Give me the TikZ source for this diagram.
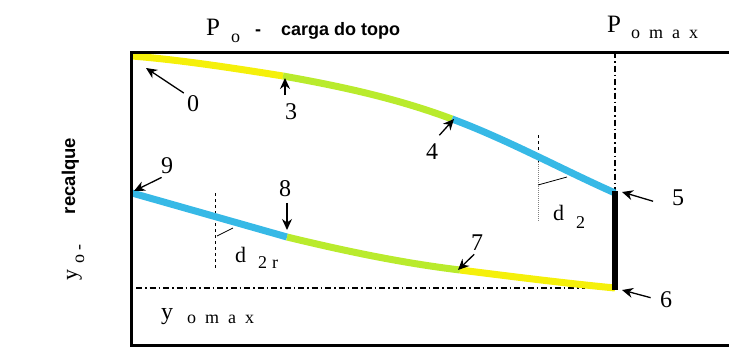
\documentclass[tikz,border=0pt]{standalone}
\usepackage{fontspec}
\setmainfont{Liberation Serif}
\setsansfont{Liberation Sans}
\usetikzlibrary{arrows.meta}

\definecolor{amarelo}{RGB}{245,240,10}
\definecolor{verde}{RGB}{185,235,45}
\definecolor{azul}{RGB}{55,185,230}

\newcommand{\indice}[2][7pt]{\raisebox{-#1}{\fontsize{18}{18}\selectfont #2}}

\begin{document}
\begin{tikzpicture}[x=1pt, y=-1pt,
    curva/.style={line width=7pt},
    seta/.style={-{Stealth[length=11pt,width=10pt]}, line width=1.3pt},
    num/.style={font=\fontsize{24}{24}\selectfont, inner sep=0.5pt},
    traco/.style={line width=1.2pt, dash pattern=on 6pt off 3pt on 1.5pt off 3pt}]
    \useasboundingbox (0,0) rectangle (729,349);

    % Linhas de referência (P_omax e y_omax)
    \draw[traco] (615,52) -- (615,192);
    \draw[traco] (136,288) -- (585,288);

    % Cotas d_2 e d_2r
    \draw[dashed, line width=0.9pt] (538,135) -- (538,162);
    \draw[gray, densely dotted, line width=1pt] (538,162) -- (538,222);
    \draw[line width=0.8pt] (538,185) -- (567,177);
    \draw[dashed, line width=0.9pt] (215,193) -- (215,270);
    \draw[line width=0.8pt] (217,236) -- (233,228);

    % Pontos das curvas
    \coordinate (a0) at (132,56);
    \coordinate (a3) at (283,76);
    \coordinate (a4) at (452,119);
    \coordinate (a5) at (615,193);
    \coordinate (b9) at (132,193);
    \coordinate (b8) at (287,237);
    \coordinate (b7) at (460,270);
    \coordinate (b6) at (615,288);

    % Carga: 0 -> 3 -> 4 -> 5
    \draw[curva, amarelo] (a0) .. controls (181,60) and (233,68) .. (a3);
    \draw[curva, verde] (a3) .. controls (339,86) and (396,98) .. (a4);
    \draw[curva, azul] (a4) .. controls (506,139) and (561,169) .. (a5);

    % Recarga: 9 -> 8 -> 7 -> 6
    \draw[curva, azul] (b9) -- (b8);
    \draw[curva, verde] (b8) .. controls (345,251) and (402,263) .. (b7);
    \draw[curva, amarelo] (b7) .. controls (512,276.5) and (563,283) .. (b6);

    % Moldura
    \draw[line width=3pt] (729,52) -- (131,52) -- (131,345.5) -- (729,345.5);
    \draw[line width=6pt] (615,191) -- (615,290);

    % Textos
    \node[anchor=base west, inner sep=0pt, font=\fontsize{25}{25}\selectfont] (po) at (206,35) {P\hspace{11pt}\indice{o}};
    \node[anchor=base west, inner sep=0pt, font=\sffamily\bfseries\fontsize{18}{20}\selectfont] (carga) at (255,35) {-\hspace{20pt}carga do topo};
    \node[anchor=base west, inner sep=0pt, font=\fontsize{25}{25}\selectfont] (pomax) at (607,32) {P\hspace{10pt}\indice[6pt]{o\hspace{9pt}m\hspace{9pt}a\hspace{9pt}x}};
    \node[anchor=base west, inner sep=0pt, font=\fontsize{24}{24}\selectfont] (yomax) at (161,319) {y\hspace{14pt}\indice[4pt]{o\hspace{9pt}m\hspace{9pt}a\hspace{9pt}x}};
    \node[anchor=base west, inner sep=0pt, font=\fontsize{22}{22}\selectfont] (d2) at (553,220) {d\hspace{12pt}\indice[8pt]{2}};
    \node[anchor=base west, inner sep=0pt, font=\fontsize{22}{22}\selectfont] (d2r) at (235,262) {d\hspace{12pt}\indice[6pt]{2\hspace{5pt}r}};
    \node[rotate=90, anchor=base, font=\sffamily\bfseries\fontsize{18.5}{20}\selectfont] (recalque) at (75,176) {recalque};
    \node[rotate=90, anchor=base west, inner sep=0pt, font=\fontsize{22}{22}\selectfont] (yo) at (77,281) {y\hspace{6pt}\indice[7pt]{o\hspace{4pt}-}};

    % Pontas das setas
    \coordinate (t0) at (146,68);
    \coordinate (t3) at (285,78);
    \coordinate (t4) at (454,119);
    \coordinate (t5) at (622,192);
    \coordinate (t6) at (622,290);
    \coordinate (t7) at (458,270);
    \coordinate (t8) at (287,230);
    \coordinate (t9) at (134,191);

    % Números dos pontos
    \foreach \n/\p in {0/{193,103.5}, 3/{291,112}, 4/{432,152}, 5/{678,198},
                       6/{666,300}, 7/{477,243}, 8/{285,189}, 9/{167,166}} {
        \node[num] (n\n) at (\p) {\n};
    }

    % Setas
    \foreach \n/\a/\s in {0/north west/3, 4/north/11, 5/south west/19,
                          6/west/9, 7/south/4, 9/south/6} {
        \draw[seta, shorten <=\s pt] (n\n.\a) -- (t\n);
    }
    \draw[seta, shorten <=8pt] (n3.north -| t3) -- (t3);
    \draw[seta, shorten <=5pt] (n8.south -| t8) -- (t8);

\end{tikzpicture}
\end{document}
